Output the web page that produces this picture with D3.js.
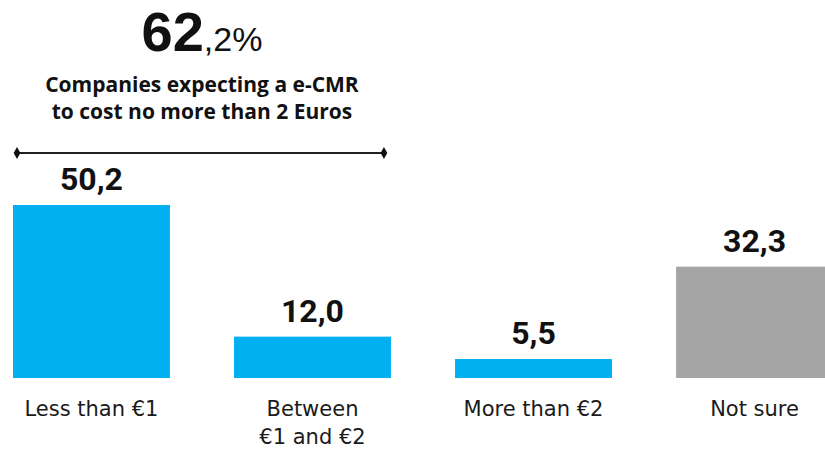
<!DOCTYPE html>
<html>
<head>
<meta charset="utf-8">
<script src="https://cdn.jsdelivr.net/npm/d3@7"></script>
<style>
  html, body { margin: 0; padding: 0; background: #fff; }
  svg { display: block; }
</style>
</head>
<body>
<svg id="chart" width="825" height="450"></svg>
<script>
// Expected cost of an e-CMR (share of companies, %)
const categories = ["Less than €1", "Between\n€1 and €2", "More than €2", "Not sure"];
const values = [50.2, 12.0, 5.5, 32.3];
const valueLabels = ["50,2", "12,0", "5,5", "32,3"];
const barColors = ["#00B0F0", "#00B0F0", "#00B0F0", "#A5A5A5"];
const headlineMain = "62";
const headlineRest = ",2%";
const headlineText = ["Companies expecting a e-CMR", "to cost no more than 2 Euros"];
const bracketSpan = [0, 1]; // categories grouped under the headline

const svg = d3.select("#chart");
const baseline = 378;
const labelFont = "'Open Sans', 'DejaVu Sans', sans-serif";

const x = d3.scaleBand()
  .domain(categories)
  .range([13, 833])
  .paddingInner(0.29)
  .paddingOuter(0);

const y = d3.scaleLinear()
  .domain([0, 50.2])
  .range([baseline, 205]);

// Bars
svg.append("g").selectAll("rect")
  .data(categories)
  .join("rect")
  .attr("x", d => x(d))
  .attr("y", (d, i) => y(values[i]))
  .attr("width", x.bandwidth())
  .attr("height", (d, i) => baseline - y(values[i]))
  .attr("fill", (d, i) => barColors[i]);

// Value labels above bars
svg.append("g").selectAll("text")
  .data(categories)
  .join("text")
  .attr("x", d => x(d) + x.bandwidth() / 2)
  .attr("y", (d, i) => y(values[i]) - 15)
  .attr("text-anchor", "middle")
  .attr("font-family", "Roboto, 'Liberation Sans', sans-serif")
  .attr("font-weight", 700)
  .attr("font-size", 32)
  .attr("fill", "#111")
  .text((d, i) => valueLabels[i]);

// Category labels (band axis, ticks and domain line hidden)
const xAxis = svg.append("g")
  .attr("transform", `translate(0,${baseline})`)
  .call(d3.axisBottom(x).tickSize(0).tickFormat(""));
xAxis.select(".domain").remove();
xAxis.selectAll(".tick").each(function(d) {
  const lines = d.split("\n");
  const t = d3.select(this).append("text")
    .attr("text-anchor", "middle")
    .attr("font-family", "'DejaVu Sans', sans-serif")
    .attr("font-size", 21)
    .attr("fill", "#1a1a1a");
  lines.forEach((ln, k) => {
    t.append("tspan").attr("x", 0).attr("y", 38 + k * 28).text(ln);
  });
});

// Headline figure
const cx = (x(categories[bracketSpan[0]]) + x(categories[bracketSpan[1]]) + x.bandwidth()) / 2;
const head = svg.append("text")
  .attr("x", cx)
  .attr("y", 51)
  .attr("text-anchor", "middle")
  .attr("font-family", "'Liberation Sans', Arial, sans-serif")
  .attr("fill", "#111");
head.append("tspan").attr("font-weight", 700).attr("font-size", 56).text(headlineMain);
head.append("tspan").attr("font-weight", 400).attr("font-size", 34).text(headlineRest);

svg.append("g").selectAll("text")
  .data(headlineText)
  .join("text")
  .attr("x", cx)
  .attr("y", (d, i) => 92 + i * 26.5)
  .attr("text-anchor", "middle")
  .attr("font-family", labelFont)
  .attr("font-weight", 700)
  .attr("font-size", 21)
  .attr("fill", "#111")
  .text(d => d);

// Bracket over the grouped categories
const bx0 = x(categories[bracketSpan[0]]) + 4;
const bx1 = x(categories[bracketSpan[1]]) + x.bandwidth() - 7;
const by = 153;
svg.append("line")
  .attr("x1", bx0).attr("x2", bx1)
  .attr("y1", by).attr("y2", by)
  .attr("stroke", "#222")
  .attr("stroke-width", 2);
svg.append("g").selectAll("path")
  .data([bx0, bx1])
  .join("path")
  .attr("d", d3.symbol(d3.symbolDiamond, 40))
  .attr("transform", d => `translate(${d},${by})`)
  .attr("fill", "#111");
</script>
</body>
</html>
